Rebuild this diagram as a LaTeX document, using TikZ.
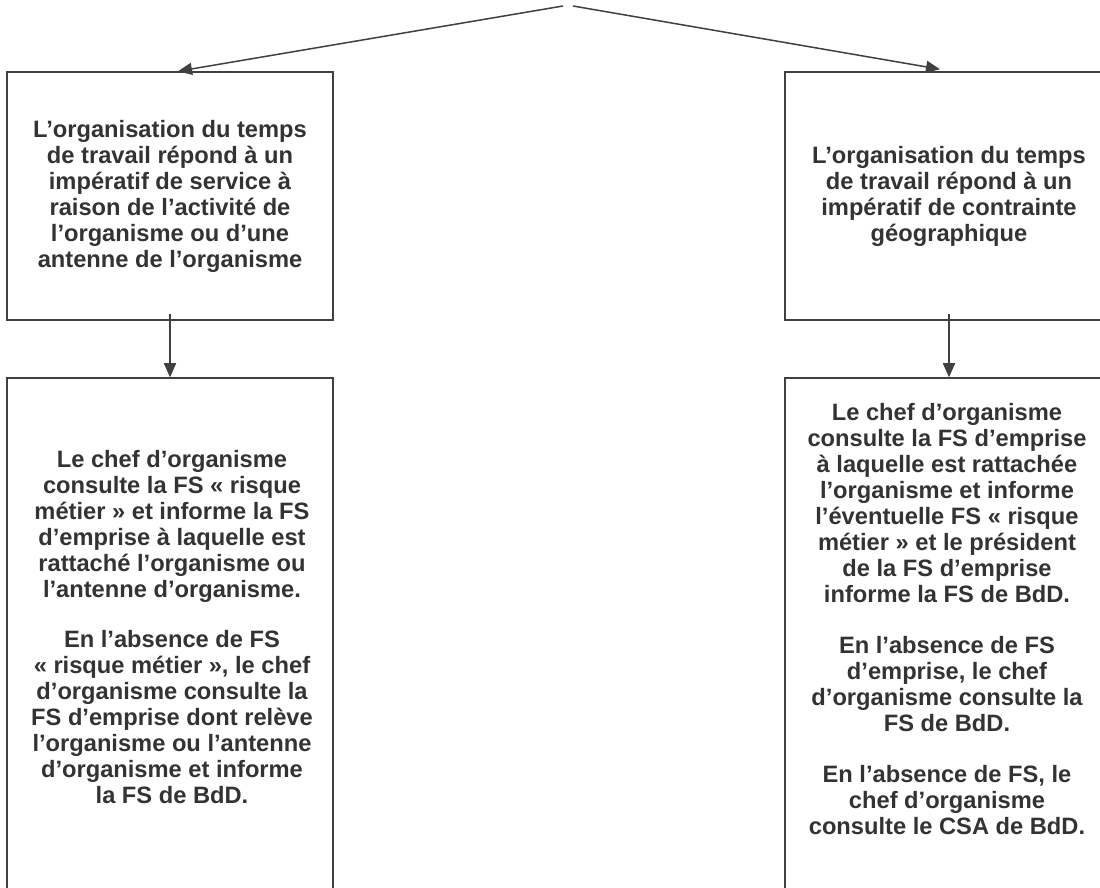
\documentclass[tikz,border=0pt]{standalone}
\usepackage{fontspec}
\setmainfont{Liberation Sans}
\usetikzlibrary{arrows.meta}
\definecolor{ink}{HTML}{333333}
\definecolor{linec}{HTML}{404040}
\tikzset{
  box/.style={draw=linec, line width=0.75pt, rectangle, inner sep=0pt, align=center, text=ink,
              font=\fontsize{11.84pt}{13pt}\selectfont\bfseries},
  txt/.style={inner sep=0pt, align=center, text=ink, font=\fontsize{11.84pt}{13pt}\selectfont\bfseries},
  arr/.style={draw=linec, line width=0.75pt, -{Triangle[length=7pt,width=6pt]}}
}
\begin{document}
\begin{tikzpicture}[x=0.5pt, y=-0.5pt]
\useasboundingbox (0,0) rectangle (1100,888);
\clip (0,0) rectangle (1100,888);
\fill[white] (0,0) rectangle (1100,888);
% free ends at the apex
\coordinate (apexL) at (563,6);
\coordinate (apexR) at (573,6);
% top boxes
\node[box, minimum width=163pt, minimum height=124pt] (box1) at (170,196)
  {L’organisation du temps\\de travail répond à un\\impératif de service à\\raison de l’activité de\\l’organisme ou d’une\\antenne de l’organisme};
\node[box, minimum width=164pt, minimum height=124pt] (box2) at (949,196)
  {L’organisation du temps\\de travail répond à un\\impératif de contrainte\\géographique};
% lower boxes (cut by the lower edge)
\node[box, minimum width=163pt, minimum height=261pt] (box3) at (170,639) {};
\node[box, minimum width=164pt, minimum height=261pt] (box4) at (949,639) {};
\node[txt] (txt3) at (172,627)
  {Le chef d’organisme\\consulte la FS « risque\\métier » et informe la FS\\d’emprise à laquelle est\\rattaché l’organisme ou\\l’antenne d’organisme.\\[12pt]
   En l’absence de FS\\« risque métier », le chef\\d’organisme consulte la\\FS d’emprise dont relève\\l’organisme ou l’antenne\\d’organisme et informe\\la FS de BdD.};
\node[txt] (txt4) at (947,619)
  {Le chef d’organisme\\consulte la FS d’emprise\\à laquelle est rattachée\\l’organisme et informe\\l’éventuelle FS « risque\\métier » et le président\\de la FS d’emprise\\informe la FS de BdD.\\[12.5pt]
   En l’absence de FS\\d’emprise, le chef\\d’organisme consulte la\\FS de BdD.\\[12.5pt]
   En l’absence de FS, le\\chef d’organisme\\consulte le CSA de BdD.};
% connectors
\draw[arr] (apexL) -- ([xshift=4pt]box1.north);
\draw[arr] (apexR) -- ([xshift=-4.5pt,yshift=1pt]box2.north);
\draw[arr] ([yshift=3.5pt]box1.south) -- (box3.north);
\draw[arr] ([yshift=3.5pt]box2.south) -- (box4.north);
\end{tikzpicture}
\end{document}
